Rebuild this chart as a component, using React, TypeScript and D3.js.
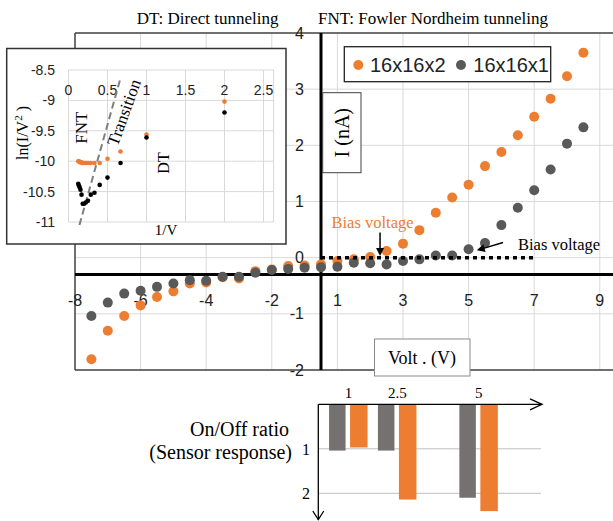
import React from 'react';
import * as d3 from 'd3';

// I-V sweep, 0.5 V steps
const volts = [-7.5, -7, -6.5, -6, -5.5, -5, -4.5, -4, -3.5, -3, -2.5, -2, -1.5, -1, -0.5, 0, 0.5, 1, 1.5, 2, 2.5, 3, 3.5, 4, 4.5, 5, 5.5, 6, 6.5, 7, 7.5];
const current2x = [-1.81, -1.3, -1.04, -0.85, -0.7, -0.6, -0.46, -0.44, -0.35, -0.37, -0.24, -0.21, -0.15, -0.14, -0.12, -0.06, -0.03, 0.01, 0.12, 0.25, 0.49, 0.8, 1.07, 1.3, 1.63, 1.88, 2.18, 2.51, 2.83, 3.23, 3.65];
const current1x = [-1.04, -0.8, -0.64, -0.59, -0.52, -0.46, -0.4, -0.41, -0.34, -0.34, -0.27, -0.22, -0.2, -0.18, -0.17, -0.16, -0.09, -0.1, -0.12, -0.06, -0.03, 0.04, 0.04, 0.15, 0.26, 0.58, 0.89, 1.2, 1.57, 2.03, 2.32];
const xTickValues = [-8, -6, -4, -2, 0, 2, 4, 6, 8];
const xTickLabels = ['-8', '-6', '-4', '-2', '1', '3', '5', '7', '9'];
const yTickValues = [-2, -1, 0, 1, 2, 3, 4];

// inset: ln(I/V^2) vs 1/V
const invVolt = [2, 1, 0.667, 0.5, 0.4, 0.333, 0.286, 0.25, 0.222, 0.2, 0.182, 0.167, 0.154, 0.143, 0.133, 0.125];
const lnOrange = [-9.02, -9.56, -9.84, -9.96, -10.03, -10.03, -10.03, -10.03, -10.03, -10.03, -10.03, -10.02, -10.02, -10.01, -10.0, -10.0];
const lnBlack = [-9.2, -9.61, -10.03, -10.27, -10.39, -10.52, -10.55, -10.65, -10.68, -10.7, -10.7, -10.55, -10.47, -10.43, -10.4, -10.37];
const insetXTicks = [0, 0.5, 1, 1.5, 2, 2.5];
const insetYTicks = [-8.5, -9, -9.5, -10, -10.5, -11];
const transitionLine: [number, number][] = [[0.14, -11.05], [0.67, -8.62]];

// on/off ratio bars
const ratioVolts = [1, 2.5, 5];
const ratioLabels = ['1', '2.5', '5'];
const ratio1x = [1.04, 1.04, 2.1];
const ratio2x = [0.97, 2.14, 2.4];
const ratioTicks = [1, 2];

const ORANGE = '#ED7D31';
const GRAY = '#595959';
const BAR_GRAY = '#767171';
const GRID = '#d9d9d9';
const SERIF = '"Liberation Serif", "Times New Roman", serif';
const SANS = '"Liberation Sans", Arial, sans-serif';

function arrowHead(x1: number, y1: number, x2: number, y2: number, len = 8, half = 4) {
  const dx = x2 - x1, dy = y2 - y1;
  const l = Math.hypot(dx, dy);
  const ux = dx / l, uy = dy / l;
  const bx = x2 - ux * len, by = y2 - uy * len;
  return `M${x2},${y2}L${bx - uy * half},${by + ux * half}L${bx + uy * half},${by - ux * half}Z`;
}

export default function App() {
  const x = d3.scaleLinear().domain([-8, 8]).range([75, 599.8]);
  const y = d3.scaleLinear().domain([-2, 4]).range([370, 33]);
  const axisX = x(-0.5);
  const axisY = y(-0.3);

  const ix = d3.scaleLinear().domain([0, 2.5]).range([68.5, 263.5]);
  const iy = d3.scaleLinear().domain([-11, -8.5]).range([222, 70]);
  const ixMax = ix(2.63);

  const bx = d3.scaleLinear().domain([0, 7]).range([316, 544]);
  const by = d3.scaleLinear().domain([0, 2]).range([404.3, 493.3]);
  const barAxisX = 318.3;

  const tLine = d3.line<[number, number]>().x(d => ix(d[0])).y(d => iy(d[1]));

  const orangeArrowX = x(1.3);
  const bt = [x(5.05), y(0.27)];
  const bh = [x(4.25), y(0.13)];

  return (
    <svg width={613} height={521} style={{ position: 'absolute', left: 0, top: 0 }}>
      <rect width={613} height={521} fill="#fff" />

      {/* titles */}
      <text x={136.7} y={24} fontFamily={SERIF} fontSize={17}>DT: Direct tunneling</text>
      <text x={318} y={24} fontFamily={SERIF} fontSize={17}>FNT: Fowler Nordheim tunneling</text>

      {/* main grid */}
      {xTickValues.filter(v => v > -8).map(v => (
        <line key={'gx' + v} x1={x(v)} x2={x(v)} y1={y(4)} y2={y(-2)} stroke={GRID} />
      ))}
      {yTickValues.filter(v => v > -2 && v < 4).map(v => (
        <line key={'gy' + v} x1={x(-8)} x2={613} y1={y(v)} y2={y(v)} stroke={GRID} />
      ))}
      <line x1={x(-8)} x2={613} y1={y(4)} y2={y(4)} stroke="#404040" strokeWidth={1.5} />
      <line x1={x(-8)} x2={613} y1={y(-2)} y2={y(-2)} stroke="#404040" strokeWidth={1.5} />
      <line x1={x(-8)} x2={x(-8)} y1={y(4)} y2={y(-2)} stroke="#404040" strokeWidth={1.5} />
      <line x1={x(-8)} x2={613} y1={axisY} y2={axisY} stroke="#000" strokeWidth={3} />
      <line x1={axisX} x2={axisX} y1={y(4)} y2={y(-2)} stroke="#000" strokeWidth={3} />

      {/* main tick labels */}
      {xTickValues.map((v, i) => (
        <text key={'tx' + v} x={x(v)} y={306} textAnchor="middle" fontFamily={SANS} fontSize={16} fill="#222">{xTickLabels[i]}</text>
      ))}
      {yTickValues.map(v => (
        <text key={'ty' + v} x={304} y={y(v) + 5.5} textAnchor="end" fontFamily={SANS} fontSize={16} fill="#222">{v}</text>
      ))}

      {/* I-V points */}
      {volts.map((v, i) => (
        <circle key={'o' + i} cx={x(v)} cy={y(current2x[i])} r={5} fill={ORANGE} />
      ))}
      {volts.map((v, i) => (
        <circle key={'g' + i} cx={x(v)} cy={y(current1x[i])} r={5} fill={GRAY} />
      ))}

      {/* bias line and arrows */}
      <line x1={axisX} x2={x(6.05)} y1={y(0)} y2={y(0)} stroke="#000" strokeWidth={3.5} strokeDasharray="4 4" />
      <text x={331.5} y={228} fontFamily={SERIF} fontSize={16.5} fill={ORANGE}>Bias voltage</text>
      <line x1={orangeArrowX} x2={orangeArrowX} y1={y(0.45)} y2={y(0.03) - 6} stroke="#000" strokeWidth={1.5} />
      <path d={arrowHead(orangeArrowX, y(0.45), orangeArrowX, y(0.03))} fill="#000" />
      <text x={518} y={250} fontFamily={SERIF} fontSize={16.5} fill="#000">Bias voltage</text>
      <line x1={bt[0]} y1={bt[1]} x2={bh[0] + 5} y2={bh[1] - 1.5} stroke="#000" strokeWidth={1.5} />
      <path d={arrowHead(bt[0], bt[1], bh[0], bh[1])} fill="#000" />

      {/* legend */}
      <rect x={344.3} y={46.7} width={206.4} height={35} fill="#fff" stroke="#222" strokeWidth={1.3} />
      <circle cx={358.3} cy={65} r={5} fill={ORANGE} />
      <text x={370} y={72} fontFamily={SANS} fontSize={20} fill="#222">16x16x2</text>
      <circle cx={461} cy={65} r={5} fill={GRAY} />
      <text x={473.3} y={72} fontFamily={SANS} fontSize={20} fill="#222">16x16x1</text>

      {/* axis title boxes */}
      <rect x={322.7} y={92.7} width={38.3} height={80} fill="#fff" stroke="#404040" strokeWidth={1} />
      <text transform="translate(348.5,132.7) rotate(-90)" textAnchor="middle" fontFamily={SERIF} fontSize={20}>I (nA)</text>
      <rect x={374.5} y={339} width={95.5} height={37} fill="#fff" stroke="#8a8a8a" strokeWidth={1} />
      <text x={422} y={364} textAnchor="middle" fontFamily={SERIF} fontSize={18}>Volt . (V)</text>

      {/* inset */}
      <rect x={6.7} y={48.5} width={279.3} height={195.5} fill="#fff" stroke="#333" strokeWidth={1.5} />
      {insetXTicks.map(v => (
        <line key={'ix' + v} x1={ix(v)} x2={ix(v)} y1={iy(-8.5)} y2={iy(-11)} stroke={GRID} />
      ))}
      <line x1={ixMax} x2={ixMax} y1={iy(-8.5)} y2={iy(-11)} stroke={GRID} />
      {insetYTicks.map(v => (
        <line key={'iy' + v} x1={ix(0)} x2={ixMax} y1={iy(v)} y2={iy(v)} stroke={GRID} />
      ))}
      {insetXTicks.map(v => (
        <text key={'ixt' + v} x={ix(v)} y={95} textAnchor="middle" fontFamily={SANS} fontSize={14} fill="#222">{v}</text>
      ))}
      {insetYTicks.map(v => (
        <text key={'iyt' + v} x={55} y={iy(v) + 5} textAnchor="end" fontFamily={SANS} fontSize={14} fill="#222">{v}</text>
      ))}
      <path d={tLine(transitionLine) || ''} stroke="#7f7f7f" strokeWidth={2} strokeDasharray="7 4" fill="none" />
      {invVolt.map((v, i) => (
        <circle key={'io' + i} cx={ix(v)} cy={iy(lnOrange[i])} r={2.3} fill={ORANGE} />
      ))}
      {invVolt.map((v, i) => (
        <circle key={'ib' + i} cx={ix(v)} cy={iy(lnBlack[i])} r={2.3} fill="#000" />
      ))}
      <text transform="translate(27.5,133) rotate(-90)" textAnchor="middle" fontFamily={SERIF} fontSize={16}>
        ln(I/V<tspan fontSize={11} dy={-6}>2</tspan><tspan dy={6}> )</tspan>
      </text>
      <text x={166} y={235} textAnchor="middle" fontFamily={SERIF} fontSize={15}>1/V</text>
      <text transform="translate(86.5,127.7) rotate(-90)" textAnchor="middle" fontFamily={SERIF} fontSize={17}>FNT</text>
      <text transform="translate(129.4,114.4) rotate(-70)" textAnchor="middle" fontFamily={SERIF} fontSize={17}>Transition</text>
      <text transform="translate(169,163) rotate(-90)" textAnchor="middle" fontFamily={SERIF} fontSize={16}>DT</text>

      {/* on/off ratio */}
      {ratioTicks.map(v => (
        <line key={'rg' + v} x1={barAxisX} x2={541} y1={by(v)} y2={by(v)} stroke="#bfbfbf" />
      ))}
      {ratioVolts.map((v, i) => (
        <g key={'rb' + v}>
          <rect x={bx(v) - 19.5} y={by(0)} width={16.5} height={by(ratio1x[i]) - by(0)} fill={BAR_GRAY} />
          <rect x={bx(v) + 1.5} y={by(0)} width={17.5} height={by(ratio2x[i]) - by(0)} fill={ORANGE} />
          <text x={bx(v)} y={398} textAnchor="middle" fontFamily={SERIF} fontSize={15}>{ratioLabels[i]}</text>
        </g>
      ))}
      {ratioTicks.map(v => (
        <text key={'rt' + v} x={310} y={by(v) + 6} textAnchor="end" fontFamily={SERIF} fontSize={16}>{v}</text>
      ))}
      <line x1={barAxisX} x2={542} y1={by(0)} y2={by(0)} stroke="#000" strokeWidth={1.3} />
      <path d={`M530,${by(0) - 5.5}L542,${by(0)}L530,${by(0) + 5.5}`} fill="none" stroke="#000" strokeWidth={1.3} />
      <line x1={barAxisX} x2={barAxisX} y1={by(0)} y2={519.5} stroke="#000" strokeWidth={1.3} />
      <path d={`M${barAxisX - 5.5},511L${barAxisX},519.5L${barAxisX + 5.5},511`} fill="none" stroke="#000" strokeWidth={1.3} />
      <text x={289} y={436} textAnchor="end" fontFamily={SERIF} fontSize={20}>On/Off ratio</text>
      <text x={292} y={459} textAnchor="end" fontFamily={SERIF} fontSize={20}>(Sensor response)</text>
    </svg>
  );
}
